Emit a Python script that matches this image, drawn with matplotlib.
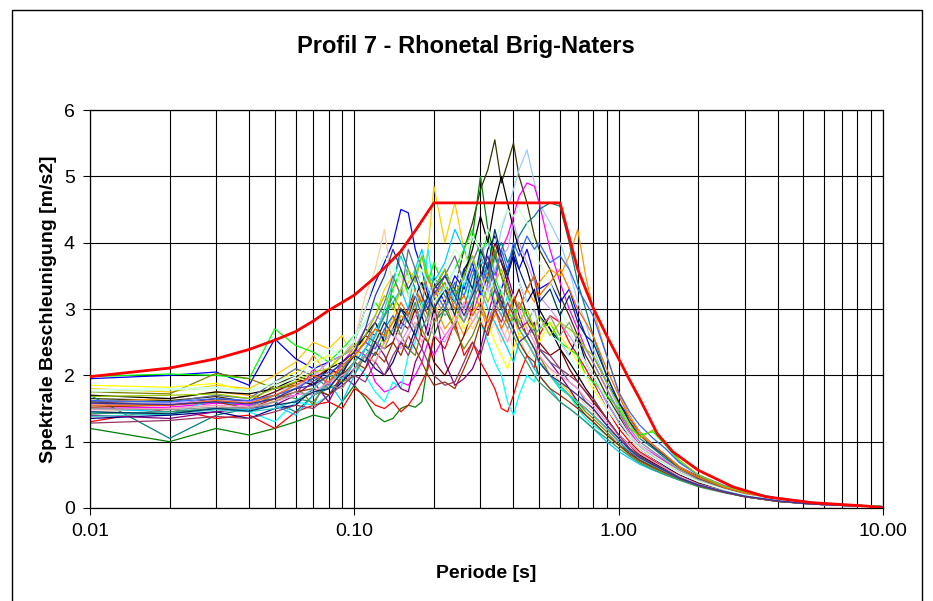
import matplotlib
matplotlib.use("Agg")
import matplotlib.pyplot as plt
from matplotlib.patches import Rectangle
from matplotlib.ticker import FixedLocator, FixedFormatter, NullFormatter

plt.rcParams["font.family"] = ["Liberation Sans", "DejaVu Sans"]

# periods [s] shared by all recorded spectra
periods = [0.01, 0.02, 0.03, 0.04, 0.05, 0.06, 0.07, 0.08, 0.09, 0.10,
           0.11, 0.12, 0.13, 0.14, 0.15, 0.16, 0.17, 0.18, 0.19, 0.20,
           0.22, 0.24, 0.26, 0.28, 0.30, 0.32, 0.34, 0.36, 0.38, 0.40,
           0.42, 0.45, 0.48, 0.50, 0.55, 0.60, 0.65, 0.70, 0.75, 0.80,
           0.90, 1.00, 1.10, 1.20, 1.35, 1.50, 1.70, 2.00, 2.50, 3.00,
           4.00, 5.00, 6.00, 8.00, 10.0]

# spectral acceleration [m/s2], one list per record
sa_01 = [1.65, 1.62, 1.68, 1.6, 1.85, 2.0, 1.9, 2.1, 2.3, 2.4,
         2.7, 2.6, 2.9, 3.1, 2.8, 3.0, 3.3, 3.1, 2.9, 3.2,
         3.5, 3.3, 3.9, 4.3, 4.8, 5.1, 5.55, 4.9, 5.2, 5.5,
         5.0, 4.6, 4.1, 3.9, 3.6, 3.2, 2.9, 2.6, 2.3, 2.1,
         1.7, 1.4, 1.1, 0.95, 0.8, 0.7, 0.55, 0.42, 0.3, 0.22, 0.13, 0.09, 0.06, 0.04, 0.02]
sa_02 = [1.55, 1.5, 1.6, 1.55, 1.75, 1.85, 1.9, 2.0, 2.2, 2.3,
         2.5, 2.6, 2.55, 2.8, 3.0, 2.9, 3.1, 2.95, 3.2, 3.3,
         3.1, 3.4, 3.6, 3.3, 3.8, 4.0, 3.7, 4.2, 4.5, 4.8,
         5.1, 5.4, 4.9, 4.6, 4.3, 4.0, 3.6, 3.1, 2.8, 2.4,
         1.9, 1.5, 1.2, 1.0, 0.85, 0.72, 0.58, 0.45, 0.32, 0.23, 0.14, 0.09, 0.06, 0.04, 0.02]
sa_03 = [1.5, 1.52, 1.58, 1.55, 1.65, 1.7, 2.1, 1.85, 2.2, 2.4,
         2.3, 1.9, 1.75, 1.8, 1.9, 1.85, 2.0, 2.2, 2.5, 2.3,
         2.6, 2.8, 3.1, 2.9, 3.3, 3.6, 3.4, 3.9, 4.1, 4.4,
         4.7, 4.9, 4.85, 4.6, 3.9, 3.4, 3.0, 2.7, 2.4, 2.2,
         1.8, 1.45, 1.15, 0.95, 0.82, 0.7, 0.55, 0.43, 0.3, 0.21, 0.13, 0.09, 0.06, 0.04, 0.02]
sa_04 = [1.2, 1.0, 1.2, 1.1, 1.2, 1.3, 1.4, 1.35, 1.6, 1.85,
         1.65, 1.4, 1.3, 1.35, 1.5, 1.55, 1.52, 1.6, 2.2, 2.6,
         3.0, 2.7, 3.4, 4.1, 5.0, 4.2, 3.8, 3.5, 3.2, 3.0,
         2.7, 2.5, 2.3, 2.2, 2.0, 1.8, 1.7, 1.55, 1.4, 1.3,
         1.1, 0.95, 0.85, 0.75, 0.65, 0.58, 0.48, 0.38, 0.28, 0.2, 0.12, 0.08, 0.05, 0.03, 0.02]
sa_05 = [1.8, 1.75, 1.85, 1.8, 2.0, 2.2, 2.5, 2.4, 2.6, 2.2,
         2.6, 2.9, 3.3, 3.5, 3.2, 3.4, 3.6, 3.3, 3.9, 4.85,
         4.0, 4.6, 3.9, 3.5, 3.2, 3.6, 3.1, 3.3, 2.8, 2.9,
         2.6, 2.5, 2.3, 2.2, 2.0, 1.9, 1.75, 1.6, 1.5, 1.4,
         1.2, 1.05, 0.9, 0.8, 0.7, 0.6, 0.5, 0.4, 0.28, 0.2, 0.12, 0.08, 0.05, 0.03, 0.02]
sa_06 = [1.95, 2.0, 2.05, 1.85, 2.55, 2.25, 2.1, 2.2, 2.3, 2.5,
         3.0, 3.4, 3.7, 4.0, 4.5, 4.45, 3.9, 3.6, 3.2, 3.4,
         3.1, 3.5, 3.3, 3.7, 3.2, 3.5, 3.0, 3.3, 3.6, 3.8,
         3.6, 3.9, 3.5, 3.3, 3.4, 3.1, 3.3, 2.9, 2.6, 2.3,
         1.9, 1.6, 1.35, 1.15, 0.95, 0.8, 0.62, 0.48, 0.32, 0.23, 0.14, 0.09, 0.06, 0.04, 0.02]
sa_07 = [1.6, 1.65, 1.75, 1.7, 1.6, 1.9, 2.3, 2.0, 2.1, 2.3,
         2.5, 2.4, 2.7, 2.6, 2.9, 2.8, 3.0, 3.2, 2.9, 3.1,
         2.7, 2.9, 2.6, 2.8, 3.0, 2.7, 2.9, 3.1, 2.8, 3.2,
         3.0, 3.3, 3.1, 3.4, 3.6, 3.5, 3.8, 4.2, 3.5, 3.0,
         2.3, 1.75, 1.4, 1.15, 0.95, 0.8, 0.62, 0.47, 0.32, 0.23, 0.14, 0.09, 0.06, 0.04, 0.02]
sa_08 = [1.7, 1.05, 1.4, 1.5, 1.6, 1.45, 1.7, 1.8, 1.9, 2.2,
         2.4, 2.3, 2.6, 3.4, 3.9, 3.6, 3.3, 3.0, 3.2, 2.8,
         3.0, 3.3, 3.0, 3.5, 3.7, 3.4, 3.8, 4.0, 3.7, 3.9,
         4.1, 4.3, 4.4, 4.5, 4.6, 4.55, 4.0, 3.4, 3.0, 2.6,
         2.0, 1.6, 1.3, 1.05, 0.9, 0.75, 0.6, 0.46, 0.31, 0.22, 0.13, 0.09, 0.06, 0.04, 0.02]
sa_09 = [1.45, 1.5, 1.55, 1.45, 1.6, 1.8, 2.0, 2.1, 2.3, 2.5,
         3.2, 3.6, 4.2, 3.3, 3.5, 3.2, 3.0, 3.4, 3.1, 2.9,
         3.2, 2.8, 3.0, 2.7, 2.9, 2.6, 2.8, 2.5, 2.7, 2.4,
         2.6, 2.3, 2.5, 2.2, 2.1, 1.9, 1.8, 1.7, 1.55, 1.45,
         1.25, 1.05, 0.9, 0.78, 0.68, 0.58, 0.48, 0.38, 0.27, 0.19, 0.12, 0.08, 0.05, 0.03, 0.02]
sa_10 = [1.3, 1.5, 1.35, 1.4, 1.2, 1.45, 1.55, 1.6, 1.5, 1.8,
         1.7, 1.55, 1.5, 1.6, 1.45, 1.55, 1.7, 1.9, 2.1, 2.6,
         2.4, 2.8, 2.3, 2.5, 2.2, 2.0, 1.8, 1.5, 1.45, 1.7,
         2.0, 2.3, 2.1, 2.6, 2.9, 2.8, 2.5, 2.3, 2.1, 1.9,
         1.5, 1.2, 1.0, 0.85, 0.72, 0.6, 0.5, 0.38, 0.27, 0.19, 0.12, 0.08, 0.05, 0.03, 0.02]
sa_11 = [1.45, 1.4, 1.65, 1.45, 1.3, 1.6, 1.55, 1.7, 1.95, 2.2,
         2.0, 1.75, 1.6, 1.9, 1.8, 2.3, 2.5, 3.0, 3.9, 3.3,
         3.6, 3.1, 3.4, 3.0, 2.8, 2.5, 2.2, 2.0, 1.6, 1.4,
         1.7, 2.0, 1.9, 2.2, 2.0, 1.8, 1.7, 1.5, 1.35, 1.25,
         1.1, 0.95, 0.82, 0.72, 0.62, 0.55, 0.45, 0.35, 0.25, 0.18, 0.11, 0.07, 0.05, 0.03, 0.02]
sa_12 = [1.35, 1.4, 1.45, 1.35, 1.5, 1.55, 1.8, 1.7, 1.9, 2.1,
         2.3, 2.1, 2.0, 2.2, 2.5, 2.4, 2.7, 2.9, 2.6, 3.0,
         3.3, 3.1, 3.6, 3.8, 3.4, 3.9, 4.1, 3.7, 3.5, 3.8,
         3.4, 3.1, 3.3, 2.9, 2.7, 2.5, 2.3, 2.6, 2.2, 2.0,
         1.6, 1.3, 1.05, 0.9, 0.75, 0.63, 0.5, 0.38, 0.27, 0.19, 0.12, 0.08, 0.05, 0.03, 0.02]
sa_13 = [1.4, 1.35, 1.45, 1.5, 1.55, 1.7, 1.9, 1.6, 2.0, 1.85,
         2.1, 2.5, 2.3, 2.0, 1.8, 1.75, 2.2, 2.4, 2.8, 3.1,
         2.2, 1.85, 1.95, 2.1, 2.4, 2.9, 3.3, 3.0, 3.5, 3.2,
         2.9, 2.6, 2.8, 2.4, 2.2, 2.0, 1.8, 1.6, 1.5, 1.4,
         1.2, 1.0, 0.85, 0.72, 0.62, 0.53, 0.44, 0.34, 0.24, 0.17, 0.1, 0.07, 0.05, 0.03, 0.02]
sa_14 = [1.6, 1.55, 1.65, 1.6, 1.75, 1.9, 1.95, 2.1, 2.0, 2.4,
         2.6, 2.5, 2.4, 2.5, 2.8, 2.7, 3.0, 2.6, 2.5, 2.2,
         2.0, 2.3, 2.6, 3.0, 3.8, 3.5, 4.0, 3.7, 3.4, 3.1,
         3.3, 2.9, 2.7, 2.5, 2.3, 2.4, 2.1, 1.9, 1.75, 1.6,
         1.35, 1.1, 0.95, 0.82, 0.7, 0.6, 0.48, 0.37, 0.26, 0.19, 0.11, 0.08, 0.05, 0.03, 0.02]
sa_15 = [1.98, 2.02, 2.0, 1.95, 2.7, 2.45, 2.35, 2.2, 2.4, 2.6,
         2.8, 3.1, 2.9, 3.3, 3.6, 3.2, 3.5, 3.8, 3.4, 3.7,
         3.3, 3.6, 3.9, 4.2, 3.8, 4.1, 3.5, 3.2, 3.0, 2.8,
         3.1, 2.9, 2.6, 2.7, 2.8, 2.5, 2.4, 2.3, 2.0, 1.9,
         1.7, 1.5, 1.2, 1.1, 1.15, 0.95, 0.7, 0.5, 0.33, 0.24, 0.14, 0.09, 0.06, 0.04, 0.02]
sa_16 = [1.75, 1.72, 2.03, 1.95, 1.8, 1.85, 1.55, 2.0, 1.9, 2.0,
         2.3, 2.2, 2.5, 2.9, 2.6, 2.4, 2.3, 2.7, 2.5, 2.8,
         3.1, 2.7, 2.4, 2.6, 2.9, 3.4, 3.9, 3.5, 3.2, 3.0,
         2.8, 2.6, 2.4, 2.3, 2.0, 1.85, 1.7, 1.6, 1.45, 1.35,
         1.15, 0.95, 0.8, 0.7, 0.6, 0.52, 0.43, 0.33, 0.24, 0.17, 0.1, 0.07, 0.05, 0.03, 0.02]
sa_17 = [1.5, 1.45, 1.5, 1.48, 1.55, 1.4, 1.7, 1.9, 1.6, 2.0,
         2.4, 2.7, 2.9, 3.1, 3.3, 3.0, 3.6, 3.9, 3.5, 3.4,
         3.7, 4.2, 3.9, 3.6, 3.3, 3.0, 2.8, 2.6, 2.4, 2.2,
         2.5, 2.3, 2.1, 2.0, 1.8, 1.6, 1.5, 1.4, 1.3, 1.2,
         1.0, 0.85, 0.75, 0.66, 0.57, 0.5, 0.42, 0.33, 0.24, 0.17, 0.1, 0.07, 0.05, 0.03, 0.02]
sa_18 = [1.7, 1.65, 1.75, 1.72, 1.8, 1.95, 1.85, 2.1, 2.2, 2.35,
         2.6, 2.8, 2.5, 2.7, 3.0, 2.9, 3.2, 3.4, 3.1, 3.3,
         3.6, 3.2, 3.5, 3.9, 4.4, 4.0, 4.6, 5.0, 4.6, 4.2,
         3.9, 3.6, 3.2, 3.0, 2.7, 2.4, 2.2, 2.0, 1.8, 1.65,
         1.35, 1.1, 0.95, 0.8, 0.68, 0.58, 0.47, 0.36, 0.26, 0.18, 0.11, 0.07, 0.05, 0.03, 0.02]
sa_19 = [1.55, 1.58, 1.62, 1.6, 1.7, 1.8, 2.0, 2.2, 2.3, 2.4,
         2.7, 2.9, 2.8, 2.6, 2.5, 2.7, 2.9, 3.0, 2.8, 2.6,
         2.5, 2.8, 3.0, 3.2, 3.5, 3.3, 3.6, 3.8, 3.9, 4.3,
         4.0, 3.7, 3.4, 3.2, 3.0, 2.8, 2.6, 2.4, 2.2, 2.0,
         1.6, 1.3, 1.1, 0.92, 0.78, 0.66, 0.53, 0.4, 0.28, 0.2, 0.12, 0.08, 0.05, 0.03, 0.02]
sa_20 = [1.42, 1.45, 1.5, 1.52, 1.7, 1.65, 1.6, 1.9, 2.1, 2.3,
         2.2, 2.6, 2.9, 3.2, 3.0, 2.8, 3.1, 2.7, 2.9, 3.5,
         3.2, 3.0, 2.8, 3.1, 3.4, 3.7, 3.3, 3.0, 2.8, 2.6,
         2.4, 2.2, 2.0, 1.9, 1.75, 1.6, 1.5, 1.4, 1.3, 1.2,
         1.05, 0.9, 0.78, 0.68, 0.58, 0.5, 0.42, 0.32, 0.23, 0.17, 0.1, 0.07, 0.05, 0.03, 0.02]
sa_21 = [1.85, 1.82, 1.88, 1.75, 1.9, 2.05, 2.2, 2.3, 2.1, 2.4,
         2.5, 2.7, 2.4, 2.9, 3.3, 3.5, 3.2, 3.0, 2.8, 3.1,
         3.4, 3.0, 2.7, 2.9, 3.2, 2.8, 2.5, 2.3, 2.1, 2.4,
         2.6, 2.8, 2.7, 2.5, 2.8, 2.6, 2.4, 2.2, 2.0, 1.8,
         1.5, 1.25, 1.05, 0.9, 0.76, 0.65, 0.52, 0.4, 0.28, 0.2, 0.12, 0.08, 0.05, 0.03, 0.02]
sa_22 = [1.52, 1.55, 1.6, 1.5, 1.65, 1.75, 1.8, 1.7, 2.0, 2.2,
         2.1, 2.35, 2.2, 2.5, 2.3, 2.6, 2.4, 2.2, 2.0, 1.85,
         1.9, 1.8, 2.1, 2.4, 2.8, 2.6, 3.0, 3.2, 2.9, 2.7,
         2.5, 2.3, 2.2, 2.0, 1.8, 1.7, 1.6, 1.5, 1.4, 1.3,
         1.1, 0.95, 0.82, 0.72, 0.62, 0.54, 0.44, 0.34, 0.24, 0.17, 0.1, 0.07, 0.05, 0.03, 0.02]
sa_23 = [1.6, 1.6, 1.7, 1.65, 1.9, 2.1, 2.0, 1.8, 2.1, 2.3,
         2.5, 2.8, 3.1, 3.5, 3.2, 3.9, 3.6, 3.3, 3.5, 3.2,
         3.5, 3.8, 3.4, 3.7, 4.0, 3.6, 3.3, 3.1, 3.4, 3.0,
         2.8, 2.6, 2.7, 2.4, 2.2, 2.1, 1.9, 1.8, 1.6, 1.5,
         1.25, 1.05, 0.9, 0.78, 0.66, 0.57, 0.46, 0.35, 0.25, 0.18, 0.11, 0.07, 0.05, 0.03, 0.02]
sa_24 = [1.75, 1.78, 1.8, 1.78, 1.85, 1.95, 2.1, 2.3, 2.4, 2.5,
         3.0, 3.5, 3.8, 3.6, 3.4, 3.2, 3.5, 3.3, 3.1, 3.4,
         3.6, 3.9, 3.7, 4.1, 3.9, 4.2, 4.0, 4.3, 4.5, 4.4,
         4.5, 4.3, 4.0, 3.7, 3.4, 3.0, 2.7, 2.4, 2.2, 2.0,
         1.65, 1.35, 1.1, 0.95, 0.8, 0.68, 0.55, 0.42, 0.3, 0.21, 0.13, 0.08, 0.05, 0.03, 0.02]
sa_25 = [1.48, 1.5, 1.55, 1.52, 1.6, 1.7, 1.75, 1.9, 2.0, 2.1,
         2.3, 2.2, 2.5, 2.7, 2.4, 2.6, 2.8, 2.5, 2.7, 2.9,
         2.6, 2.8, 3.1, 2.8, 3.0, 3.3, 3.0, 2.7, 2.5, 2.8,
         3.0, 2.7, 2.5, 2.3, 2.1, 2.0, 1.9, 1.8, 1.65, 1.55,
         1.3, 1.1, 0.95, 0.82, 0.7, 0.6, 0.48, 0.36, 0.26, 0.18, 0.11, 0.07, 0.05, 0.03, 0.02]
sa_26 = [1.38, 1.42, 1.48, 1.45, 1.5, 1.62, 1.8, 2.0, 1.95, 2.2,
         2.4, 2.6, 3.0, 3.4, 3.8, 3.5, 3.2, 3.6, 3.3, 3.0,
         3.4, 3.1, 3.5, 3.2, 3.8, 3.5, 3.1, 2.9, 3.2, 2.9,
         2.7, 2.5, 2.3, 2.2, 2.0, 1.85, 1.7, 1.6, 1.5, 1.4,
         1.2, 1.0, 0.86, 0.75, 0.64, 0.55, 0.45, 0.35, 0.25, 0.18, 0.11, 0.07, 0.05, 0.03, 0.02]
sa_27 = [1.62, 1.6, 1.65, 1.62, 1.7, 1.8, 1.95, 2.05, 2.15, 2.3,
         2.5, 2.4, 2.7, 2.9, 2.7, 3.0, 3.2, 2.9, 3.1, 3.3,
         3.0, 3.4, 3.2, 3.6, 3.3, 3.7, 3.5, 3.9, 3.6, 4.0,
         3.8, 4.1, 3.9, 4.0, 3.7, 3.8, 3.6, 3.3, 3.1, 2.9,
         2.3, 1.75, 1.45, 1.25, 1.05, 0.9, 0.68, 0.5, 0.34, 0.25, 0.15, 0.1, 0.07, 0.04, 0.02]
sa_28 = [1.5, 1.48, 1.52, 1.5, 1.6, 1.75, 1.7, 1.85, 1.8, 2.1,
         2.3, 2.5, 2.4, 2.7, 2.6, 2.9, 2.7, 3.0, 2.8, 3.2,
         2.9, 3.1, 2.8, 3.3, 3.0, 2.8, 3.1, 2.9, 2.7, 2.9,
         3.1, 2.8, 3.0, 2.7, 2.9, 2.6, 2.8, 2.5, 2.4, 2.2,
         1.8, 1.45, 1.2, 1.0, 0.85, 0.72, 0.57, 0.43, 0.3, 0.21, 0.13, 0.08, 0.05, 0.03, 0.02]
sa_29 = [1.45, 1.42, 1.5, 1.46, 1.55, 1.6, 1.75, 1.8, 2.05, 2.3,
         2.2, 2.5, 2.8, 2.6, 3.0, 2.8, 2.6, 2.9, 3.2, 3.0,
         3.3, 2.9, 3.6, 3.3, 3.9, 3.6, 4.2, 3.8, 3.5, 3.9,
         3.6, 3.3, 3.5, 3.1, 3.3, 2.9, 3.2, 2.8, 2.6, 2.5,
         2.0, 1.6, 1.3, 1.1, 0.92, 0.78, 0.6, 0.45, 0.31, 0.22, 0.13, 0.09, 0.06, 0.04, 0.02]
sa_30 = [1.55, 1.55, 1.62, 1.58, 1.7, 1.85, 2.0, 1.9, 2.15, 2.3,
         2.5, 2.7, 2.6, 2.8, 3.1, 2.9, 3.3, 3.1, 3.5, 3.2,
         3.4, 3.0, 3.2, 2.9, 3.1, 2.8, 3.0, 2.7, 2.9, 3.2,
         3.0, 3.3, 3.5, 3.2, 3.4, 3.6, 3.3, 3.0, 2.8, 2.6,
         2.1, 1.7, 1.35, 1.1, 0.95, 0.8, 0.6, 0.46, 0.31, 0.22, 0.13, 0.09, 0.06, 0.04, 0.02]
sa_31 = [1.78, 1.8, 1.82, 1.75, 1.9, 2.0, 2.2, 2.4, 2.3, 2.6,
         2.8, 3.1, 3.4, 3.7, 3.3, 3.5, 3.2, 3.6, 3.4, 3.1,
         3.3, 3.6, 3.4, 3.8, 3.5, 3.2, 3.5, 3.3, 3.0, 3.2,
         3.4, 3.1, 2.9, 2.8, 2.6, 2.5, 2.3, 2.1, 2.0, 1.85,
         1.5, 1.25, 1.05, 0.9, 0.76, 0.65, 0.52, 0.4, 0.28, 0.2, 0.12, 0.08, 0.05, 0.03, 0.02]
sa_32 = [1.28, 1.32, 1.38, 1.35, 1.45, 1.55, 1.5, 1.7, 1.85, 2.0,
         1.9, 2.2, 2.0, 2.3, 2.5, 2.3, 2.6, 2.4, 2.2, 2.0,
         1.85, 1.9, 2.2, 2.5, 2.3, 2.7, 3.0, 2.8, 3.1, 2.9,
         2.7, 2.8, 2.6, 2.4, 2.3, 2.1, 2.0, 1.9, 1.75, 1.65,
         1.35, 1.1, 0.9, 0.78, 0.66, 0.56, 0.45, 0.34, 0.24, 0.17, 0.1, 0.07, 0.05, 0.03, 0.02]
sa_33 = [1.68, 1.7, 1.72, 1.65, 1.8, 1.9, 2.05, 2.1, 2.3, 2.45,
         2.6, 2.9, 3.2, 3.0, 3.3, 3.6, 3.4, 3.8, 3.5, 3.3,
         3.6, 3.2, 3.5, 3.8, 3.4, 3.1, 3.4, 3.6, 3.3, 3.0,
         2.8, 3.0, 2.7, 2.9, 2.6, 2.8, 2.7, 2.6, 2.4, 2.3,
         1.9, 1.55, 1.25, 1.05, 1.18, 1.0, 0.72, 0.5, 0.33, 0.24, 0.14, 0.09, 0.06, 0.04, 0.02]
sa_34 = [1.58, 1.56, 1.6, 1.57, 1.65, 1.8, 1.85, 2.0, 2.2, 2.35,
         2.7, 3.2, 3.5, 3.9, 3.6, 3.3, 3.5, 3.2, 3.0, 3.3,
         3.5, 3.2, 2.9, 3.2, 3.5, 3.8, 3.4, 3.1, 2.9, 2.7,
         2.5, 2.6, 2.4, 2.2, 2.0, 1.9, 1.8, 1.7, 1.6, 1.5,
         1.25, 1.05, 0.88, 0.76, 0.65, 0.56, 0.45, 0.35, 0.25, 0.18, 0.11, 0.07, 0.05, 0.03, 0.02]

records = [sa_01, sa_02, sa_03, sa_04, sa_05, sa_06, sa_07, sa_08, sa_09, sa_10,
           sa_11, sa_12, sa_13, sa_14, sa_15, sa_16, sa_17, sa_18, sa_19, sa_20,
           sa_21, sa_22, sa_23, sa_24, sa_25, sa_26, sa_27, sa_28, sa_29, sa_30,
           sa_31, sa_32, sa_33, sa_34]
colors = ["#333300", "#99CCFF", "#FF00FF", "#008000", "#FFCC00", "#0000FF",
          "#FF9900", "#008080", "#FFCC99", "#FF0000", "#00FFFF", "#000080",
          "#800080", "#800000", "#00FF00", "#808000", "#00CCFF", "#000000",
          "#CC99FF", "#339966", "#FFFF00", "#993300", "#666699", "#CCFFCC",
          "#FF99CC", "#33CCCC", "#3366FF", "#969696", "#003366", "#FF6600",
          "#CCFFFF", "#993366", "#99CC00", "#333399"]

# design spectrum (envelope)
env_t = [0.01, 0.02, 0.03, 0.04, 0.05, 0.06, 0.07, 0.08, 0.09, 0.10, 0.12, 0.15,
         0.17, 0.20, 0.60, 0.70, 0.80, 0.90, 1.00, 1.10, 1.20, 1.40, 1.60, 2.00,
         2.70, 3.60, 5.40, 8.60, 10.0]
env_sa = [1.98, 2.11, 2.25, 2.39, 2.53, 2.66, 2.82, 2.98, 3.10, 3.21, 3.48, 3.87,
          4.18, 4.60, 4.60, 3.60, 3.02, 2.60, 2.25, 1.93, 1.65, 1.12, 0.85, 0.57,
          0.32, 0.17, 0.08, 0.03, 0.0]

fig = plt.figure(figsize=(9.33, 6.01), dpi=100)
ax = fig.add_axes([90 / 933, 93 / 601, 793 / 933, 398 / 601])

for sa, c in zip(records, colors):
    ax.plot(periods, sa, color=c, lw=0.9, zorder=2)
ax.plot(env_t, env_sa, color="#FF0000", lw=2.0, zorder=3)

ax.set_xscale("log")
ax.set_xlim(0.01, 10)
ax.set_ylim(0, 6)
ax.xaxis.set_major_locator(FixedLocator([0.01, 0.1, 1, 10]))
ax.xaxis.set_major_formatter(FixedFormatter(["0.01", "0.10", "1.00", "10.00"]))
ax.xaxis.set_minor_formatter(NullFormatter())
ax.set_yticks([0, 1, 2, 3, 4, 5, 6])
ax.grid(True, which="both", color="black", lw=0.8, zorder=1)
ax.tick_params(which="major", direction="out", length=5, width=0.8,
               labelsize=14, pad=6)
ax.tick_params(which="minor", length=0)
for s in ax.spines.values():
    s.set_linewidth(0.9)

ax.set_xlabel("Periode [s]", fontsize=14, fontweight="bold", labelpad=18)
ax.set_ylabel("Spektrale Beschleunigung [m/s2]", fontsize=14,
              fontweight="bold", labelpad=5)
fig.text(466 / 933, 1 - 46 / 601, "Profil 7 - Rhonetal Brig-Naters",
         ha="center", va="center", fontsize=17, fontweight="bold")

fig.patches.append(Rectangle((12 / 933, -0.02), 910 / 933, 1.02 - 10 / 601,
                             transform=fig.transFigure, fill=False,
                             edgecolor="black", lw=1.0))

fig.savefig("out.png", dpi=100)
